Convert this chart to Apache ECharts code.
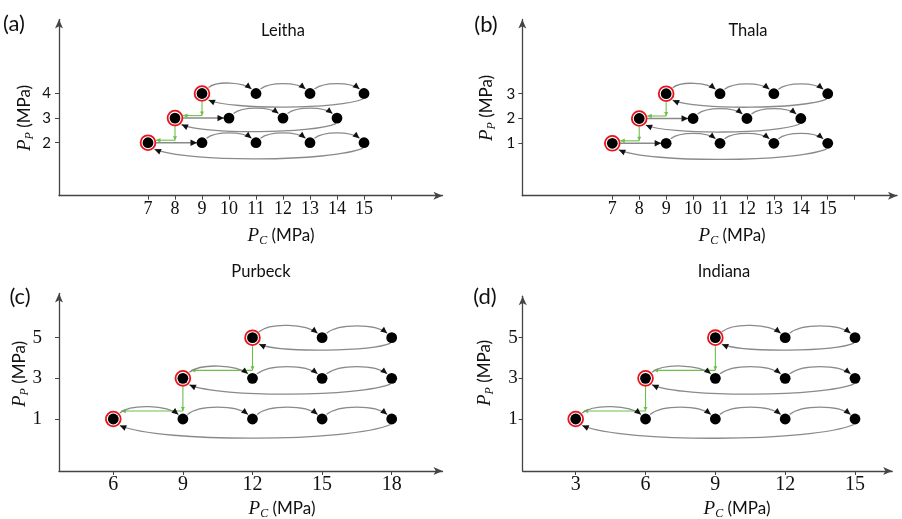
<!DOCTYPE html>
<html><head><meta charset="utf-8">
<script src="https://cdn.jsdelivr.net/npm/echarts@6/dist/echarts.min.js"></script>
<style>html,body{margin:0;padding:0;background:#fff}#c{width:902px;height:519px}</style>
</head><body><div id="c"></div>
<script>
// ---------- data ----------
const leithaPP = [4, 3, 2];
const leithaPC = [[9, 11, 13, 15], [8, 10, 12, 14], [7, 9, 11, 13, 15]];
const leithaStraightFirst = [false, true, true];
const leithaXLabels = [7, 8, 9, 10, 11, 12, 13, 14, 15];
const leithaXTicks = [7, 8, 9, 10, 11, 12, 13, 14, 15, 16];
const leithaYLabels = [2, 3, 4];

const thalaPP = [3, 2, 1];
const thalaPC = [[9, 11, 13, 15], [8, 10, 12, 14], [7, 9, 11, 13, 15]];
const thalaStraightFirst = [false, true, true];
const thalaXLabels = [7, 8, 9, 10, 11, 12, 13, 14, 15];
const thalaXTicks = [7, 8, 9, 10, 11, 12, 13, 14, 15, 16];
const thalaYLabels = [1, 2, 3];

const purbeckPP = [5, 3, 1];
const purbeckPC = [[12, 15, 18], [9, 12, 15, 18], [6, 9, 12, 15, 18]];
const purbeckStraightFirst = [false, false, false];
const purbeckXLabels = [6, 9, 12, 15, 18];
const purbeckXTicks = [6, 9, 12, 15, 18];
const purbeckYLabels = [1, 3, 5];

const indianaPP = [5, 3, 1];
const indianaPC = [[9, 12, 15], [6, 9, 12, 15], [3, 6, 9, 12, 15]];
const indianaStraightFirst = [false, false, false];
const indianaXLabels = [3, 6, 9, 12, 15];
const indianaXTicks = [3, 6, 9, 12, 15];
const indianaYLabels = [1, 3, 5];

const titles = ['Leitha', 'Thala', 'Purbeck', 'Indiana'];
const tags = ['(a)', '(b)', '(c)', '(d)'];

// ---------- layout / style ----------
const panels = [
  {name: titles[0], tag: tags[0], pp: leithaPP, pc: leithaPC, straight: leithaStraightFirst, xl: leithaXLabels, xt: leithaXTicks, yl: leithaYLabels,
   grid: {left: 59, top: 19.5, width: 383.5, height: 176.2}, xr: [3.704, 17.907], yr: [-0.154, 7.008],
   xFont: 18, xMargin: 5, yFont: 15, yFamily: 'Lato', yMargin: 8, green: 2.5,
   tagPos: [14, 24], titlePos: [283, 31], xNamePos: [281, 236], yNamePos: [25, 118]},
  {name: titles[1], tag: tags[1], pp: thalaPP, pc: thalaPC, straight: thalaStraightFirst, xl: thalaXLabels, xt: thalaXTicks, yl: thalaYLabels,
   grid: {left: 522.3, top: 19.5, width: 374.7, height: 176.2}, xr: [3.658, 17.572], yr: [-1.113, 5.992],
   xFont: 18, xMargin: 5, yFont: 15, yFamily: 'Lato', yMargin: 7, green: 2.5,
   tagPos: [486, 25], titlePos: [748, 31], xNamePos: [732, 236], yNamePos: [487, 108]},
  {name: titles[2], tag: tags[2], pp: purbeckPP, pc: purbeckPC, straight: purbeckStraightFirst, xl: purbeckXLabels, xt: purbeckXTicks, yl: purbeckYLabels,
   grid: {left: 59, top: 293.5, width: 383.5, height: 177.5}, xr: [3.66, 20.19], yr: [-1.558, 7.173],
   xFont: 20, xMargin: 4, yFont: 19, yFamily: 'Liberation Serif', yMargin: 17, green: 8,
   tagPos: [20, 297], titlePos: [261, 272], xNamePos: [282, 509], yNamePos: [20, 374]},
  {name: titles[3], tag: tags[3], pp: indianaPP, pc: indianaPC, straight: indianaStraightFirst, xl: indianaXLabels, xt: indianaXTicks, yl: indianaYLabels,
   grid: {left: 522.7, top: 296.2, width: 369.5, height: 174.8}, xr: [0.723, 16.598], yr: [-1.558, 7.04],
   xFont: 20, xMargin: 4, yFont: 19, yFamily: 'Liberation Serif', yMargin: 5, green: 8,
   tagPos: [485, 297], titlePos: [724, 272], xNamePos: [737, 509], yNamePos: [485, 373]}
];

const GRAY = '#8a8a8a', HEAD = '#111', GREEN = '#6cc04a', AXIS = '#444', RED = '#e8141b', TXT = '#111';

function buildLinks(pp, pc, straight) {
  const links = [];
  pp.forEach((y, r) => {
    const xs = pc[r];
    for (let i = 0; i < xs.length - 1; i++) {
      links.push([xs[i], y, xs[i + 1], y, (i === 0 && straight[r]) ? 1 : 0, i === 0 ? 1 : 0]);
    }
    links.push([xs[xs.length - 1], y, xs[0], y, 2, 0]);
    if (r < pp.length - 1) links.push([xs[0], y, pc[r + 1][0], pp[r + 1], 3, 0]);
  });
  return links;
}

function arrowHead(tip, from, L, W, color) {
  const dx = tip[0] - from[0], dy = tip[1] - from[1];
  const d = Math.hypot(dx, dy) || 1;
  const ux = dx / d, uy = dy / d;
  const bx = tip[0] - L * ux, by = tip[1] - L * uy;
  return {type: 'polygon', shape: {points: [[tip[0], tip[1]], [bx - W * uy, by + W * ux], [bx + W * uy, by - W * ux]]}, style: {fill: color}};
}
function curveEl(p0, c1, c2, p3, color, w) {
  return {type: 'bezierCurve', shape: {x1: p0[0], y1: p0[1], cpx1: c1[0], cpy1: c1[1], cpx2: c2[0], cpy2: c2[1], x2: p3[0], y2: p3[1]},
    style: {stroke: color, lineWidth: w, fill: 'none'}};
}
function lineEl(p0, p1, color, w) {
  return {type: 'line', shape: {x1: p0[0], y1: p0[1], x2: p1[0], y2: p1[1]}, style: {stroke: color, lineWidth: w}};
}

function makeRender(g) {
  return function (params, api) {
    const a = api.coord([api.value(0), api.value(1)]);
    const b = api.coord([api.value(2), api.value(3)]);
    const kind = api.value(4), fromRing = api.value(5);
    const ch = [];
    if (kind === 0) {
      const P0 = [a[0] + (fromRing ? 6.5 : 4.5), a[1] - (fromRing ? 6 : 4.5)];
      const P3 = [b[0] - 4.5, b[1] - 4.5];
      const dx = P3[0] - P0[0];
      const H = 0.16 * dx;
      const c1 = [P0[0] + 0.2 * dx, P0[1] - H];
      const c2 = [P3[0] - 0.2 * dx, P3[1] - H];
      ch.push(curveEl(P0, c1, c2, P3, GRAY, 1.3));
      ch.push(arrowHead(P3, c2, 6.5, 3, HEAD));
    } else if (kind === 1) {
      const P0 = [a[0] + 8, a[1]];
      const P3 = [b[0] - 5, b[1]];
      ch.push(lineEl(P0, P3, GRAY, 1.5));
      ch.push(arrowHead(P3, P0, 6.5, 3.2, HEAD));
    } else if (kind === 2) {
      const P0 = [a[0] - 1, a[1] + 5.5];
      const P3 = [b[0] + 6.5, b[1] + 6.5];
      const len = P0[0] - P3[0];
      const H = 0.065 * len;
      const c1 = [P0[0] - 0.15 * len, P0[1] + H];
      const c2 = [P3[0] + 0.15 * len, P3[1] + H];
      ch.push(curveEl(P0, c1, c2, P3, GRAY, 1.3));
      ch.push(arrowHead(P3, c2, 6.5, 3, HEAD));
    } else {
      const V0 = [a[0], a[1] + 8.5];
      const C = [a[0], b[1] - g];
      const E = [b[0] + 8, b[1] - g];
      ch.push(lineEl(V0, C, GREEN, 1.1));
      ch.push(lineEl(C, E, GREEN, 1.1));
      ch.push(arrowHead(C, V0, 4, 2, GREEN));
      ch.push(arrowHead(E, C, 4.5, 2.2, GREEN));
    }
    return {type: 'group', children: ch};
  };
}

const grids = [], xAxes = [], yAxes = [], series = [], graphics = [];
panels.forEach((p, k) => {
  grids.push(Object.assign({containLabel: false}, p.grid));
  xAxes.push({
    type: 'value', gridIndex: k, min: p.xr[0], max: p.xr[1],
    axisLine: {show: true, onZero: false, symbol: ['none', 'arrow'], symbolSize: [6, 9], lineStyle: {color: AXIS, width: 1.3}},
    axisTick: {show: true, customValues: p.xt, length: 4, lineStyle: {color: AXIS, width: 1}},
    axisLabel: {show: true, customValues: p.xl, fontFamily: 'Liberation Serif', fontSize: p.xFont, color: TXT, margin: p.xMargin},
    splitLine: {show: false}
  });
  yAxes.push({
    type: 'value', gridIndex: k, min: p.yr[0], max: p.yr[1],
    axisLine: {show: true, onZero: false, symbol: ['none', 'arrow'], symbolSize: [6, 9], lineStyle: {color: AXIS, width: 1.3}},
    axisTick: {show: true, customValues: p.yl, length: 4, lineStyle: {color: AXIS, width: 1}},
    axisLabel: {show: true, customValues: p.yl, fontFamily: p.yFamily, fontSize: p.yFont, color: TXT, margin: p.yMargin},
    splitLine: {show: false}
  });
  series.push({
    type: 'custom', xAxisIndex: k, yAxisIndex: k, clip: false, silent: true, z: 2,
    renderItem: makeRender(p.green),
    data: buildLinks(p.pp, p.pc, p.straight)
  });
  const dots = [];
  p.pp.forEach((y, r) => p.pc[r].forEach(x => dots.push([x, y])));
  series.push({
    type: 'scatter', xAxisIndex: k, yAxisIndex: k, symbol: 'circle', symbolSize: 10.8, silent: true, z: 3,
    itemStyle: {color: '#000', opacity: 1}, data: dots
  });
  series.push({
    type: 'scatter', xAxisIndex: k, yAxisIndex: k, symbol: 'circle', symbolSize: 14.8, silent: true, z: 4,
    itemStyle: {color: 'rgba(0,0,0,0)', borderColor: RED, borderWidth: 1.8, opacity: 1},
    data: p.pp.map((y, r) => [p.pc[r][0], y])
  });
  graphics.push({type: 'text', x: p.tagPos[0], y: p.tagPos[1], style: {text: p.tag, font: '22px Lato', fill: TXT, align: 'center', verticalAlign: 'middle'}});
  graphics.push({type: 'text', x: p.titlePos[0], y: p.titlePos[1], style: {text: p.name, font: '16.5px Lato', fill: TXT, align: 'center', verticalAlign: 'middle'}});
  const rich = {
    p: {fontFamily: 'Liberation Serif', fontStyle: 'italic', fontSize: 19, fill: TXT, lineHeight: 22},
    s: {fontFamily: 'Liberation Serif', fontStyle: 'italic', fontSize: 12, fill: TXT, lineHeight: 12, verticalAlign: 'bottom'},
    m: {fontFamily: 'Lato', fontSize: 17, fill: TXT, lineHeight: 22}
  };
  graphics.push({type: 'text', x: p.xNamePos[0], y: p.xNamePos[1],
    style: {text: '{p|P}{s|C}{m| (MPa)}', rich: rich, align: 'center', verticalAlign: 'middle'}});
  graphics.push({type: 'text', x: p.yNamePos[0], y: p.yNamePos[1], rotation: Math.PI / 2,
    style: {text: '{p|P}{s|P}{m| (MPa)}', rich: rich, align: 'center', verticalAlign: 'middle'}});
});

const chart = echarts.init(document.getElementById('c'), null, {renderer: 'canvas'});
chart.setOption({
  animation: false,
  backgroundColor: '#fff',
  grid: grids, xAxis: xAxes, yAxis: yAxes, series: series,
  graphic: {elements: graphics}
});
</script></body></html>
